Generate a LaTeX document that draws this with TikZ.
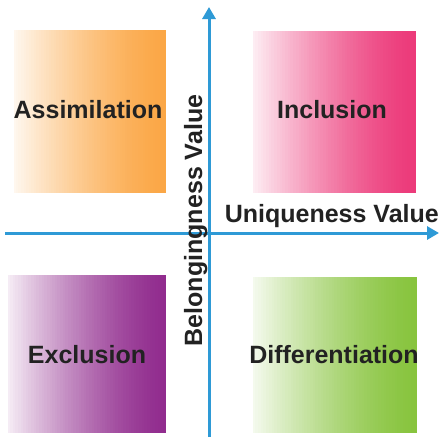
\documentclass[tikz,border=0pt]{standalone}
\usepackage{fontspec}
\setmainfont{Liberation Sans}
\usetikzlibrary{arrows.meta}
\definecolor{axisblue}{HTML}{2E9AD6}
\definecolor{txt}{HTML}{222222}
\definecolor{orangeR}{HTML}{FBA746}
\definecolor{pinkR}{HTML}{EC3A7A}
\definecolor{purpleR}{HTML}{912C8E}
\definecolor{greenR}{HTML}{88C43E}
\tikzset{
  lbl/.style={font=\fontsize{25}{30}\selectfont\bfseries, text=txt, inner sep=0pt},
  axisline/.style={line width=3pt, draw=axisblue,
    -{Triangle[width=13pt,length=12pt]}},
}
% box filled with a white-to-colour gradient, built from thin vertical strips
% #1 colour, (#2,#3) top-left corner, (#4,#5) bottom-right corner
\newcommand{\gradbox}[5]{%
  \begin{scope}
    \clip (#2,#3) rectangle (#4,#5);
    \foreach \k in {0,...,59} {%
      \pgfmathsetmacro\gpos{(\k+0.5)/60}%
      \pgfmathsetmacro\pc{8+92*(1-(1-\gpos)^1.45)}%
      \pgfmathsetmacro\xa{#2+(#4-#2)*\k/60-0.6}%
      \pgfmathsetmacro\xb{#2+(#4-#2)*(\k+1)/60}%
      \fill[#1!\pc!white] (\xa,#3) rectangle (\xb,#5);
    }
  \end{scope}}
\begin{document}
\begin{tikzpicture}[x=1pt,y=-1pt]
\useasboundingbox[fill=white] (0,0) rectangle (439,437);

% quadrant boxes
\gradbox{orangeR}{14}{30}{166}{193}
\gradbox{pinkR}{253}{31}{416}{193}
\gradbox{purpleR}{8}{275}{166}{433}
\gradbox{greenR}{253}{277}{417}{433}

% quadrant labels
\node[lbl] (assim) at (88,110) {Assimilation};
\node[lbl] (incl) at (332,110) {Inclusion};
\node[lbl] (excl) at (87,355) {Exclusion};
\node[lbl] (diff) at (334,355) {Differentiation};

% axes
\coordinate (xs) at (5,233);
\coordinate (xe) at (439,233);
\coordinate (ys) at (209,437);
\coordinate (ye) at (209,7);
\draw[axisline] (xs) -- (xe);
\draw[axisline] (ys) -- (ye);

% axis labels
\node[lbl, anchor=base east] (uval) at (439,222) {Uniqueness Value};
\node[lbl, anchor=base, rotate=90] (bval) at (202,220.5) {Belongingness Value};
\end{tikzpicture}
\end{document}
